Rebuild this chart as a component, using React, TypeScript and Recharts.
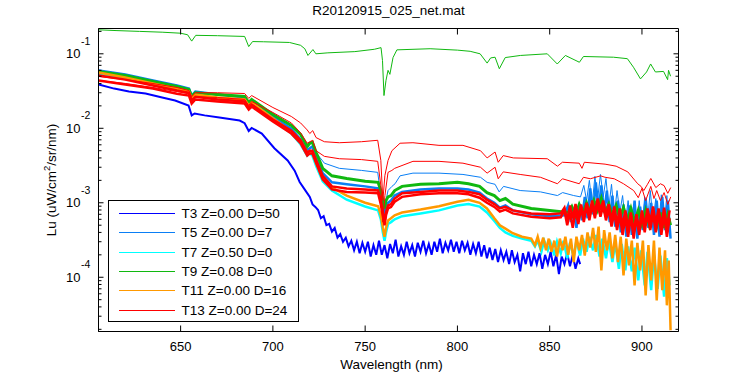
import React from 'react';
import { LineChart, Line, XAxis, YAxis, ReferenceArea } from 'recharts';

type Pt = [number, number];

// ---------- axis / text constants ----------
const WL_DOMAIN: [number, number] = [605.5, 919.8];
const LU_DOMAIN: [number, number] = [1.87e-5, 0.2186];
const X_TICKS = [650, 700, 750, 800, 850, 900];
const Y_MAJOR = [1e-4, 1e-3, 1e-2, 1e-1];
const Y_MAJOR_EXP = ['-4', '-3', '-2', '-1'];
const Y_MINOR = [
  2e-5, 3e-5, 4e-5, 5e-5, 6e-5, 7e-5, 8e-5, 9e-5,
  2e-4, 3e-4, 4e-4, 5e-4, 6e-4, 7e-4, 8e-4, 9e-4,
  2e-3, 3e-3, 4e-3, 5e-3, 6e-3, 7e-3, 8e-3, 9e-3,
  2e-2, 3e-2, 4e-2, 5e-2, 6e-2, 7e-2, 8e-2, 9e-2,
  2e-1,
];
const TITLE = 'R20120915_025_net.mat';
const X_LABEL = 'Wavelength (nm)';
const LEGEND_NAMES = [
  'T3 Z=0.00 D=50',
  'T5 Z=0.00 D=7',
  'T7 Z=0.50 D=0',
  'T9 Z=0.08 D=0',
  'T11 Z=0.00 D=16',
  'T13 Z=0.00 D=24',
];

// ---------- data: [wavelength nm, Lu] ----------
const T3_LU: Pt[] = [
  [605.6,3.87e-2],[614,3.41e-2],[622,3.11e-2],[631,2.93e-2],[640,2.59e-2],[647,2.36e-2],[654.3,2.02e-2],[656,1.49e-2],[657.6,1.58e-2],[663,1.49e-2],[671,1.4e-2],[682,1.27e-2],[684.7,1.17e-2],[686.9,9.2e-3],[688.5,1.01e-2],[694,8.5e-3],[700.8,5.4e-3],[708,3.7e-3],[711.8,2.7e-3],[714.5,1.9e-3],[717.3,1.5e-3],
  [720,1.2e-3],[721.5,9.5e-4],[723,8.8e-4],[724.5,8e-4],[726,6.2e-4],[727.5,6.6e-4],[729,5e-4],[730.5,5.2e-4],[732,4.1e-4],[733.5,4.6e-4],[735,3.4e-4],[736.5,3.8e-4],[738,3e-4],[739.5,3.4e-4],[741,2.6e-4],[742.5,3.1e-4],[744,2.3e-4],[745.5,3e-4],[747,2.1e-4],[748.5,2.9e-4],[750,2.2e-4],[751.5,3e-4],[753,1.9e-4],[754.5,2.7e-4],[756,2e-4],[757.5,3.1e-4],[759,2e-4],[760.5,2.7e-4],[762,1.8e-4],[763.5,2.8e-4],[765,2.1e-4],[766.5,3.2e-4],[768,1.9e-4],[769.5,2.6e-4],[771,2e-4],[772.5,3e-4],[774,2.1e-4],[775.5,2.7e-4],[777,1.9e-4],[778.5,2.9e-4],[780,2.2e-4],[781.5,3.1e-4],[783,2.1e-4],[784.5,2.8e-4],[786,2e-4],[787.5,3e-4],[789,2.2e-4],[790.5,3.3e-4],[792,2.1e-4],[793.5,2.9e-4],[795,2.3e-4],[796.5,3.2e-4],[798,2.2e-4],[799.5,3e-4],[801,2.1e-4],[802.5,3.1e-4],[804,2.3e-4],[805.5,2.9e-4],[807,2e-4],[808.5,2.8e-4],[810,2.1e-4],[811.5,3e-4],[813,1.9e-4],[814.5,2.7e-4],[816,1.8e-4],[817.5,2.5e-4],[819,1.7e-4],[820.5,2.4e-4],[822,1.6e-4],[823.5,2.3e-4],[825,1.7e-4],[826.5,2.2e-4],[828,1.5e-4],[829.5,2.3e-4],[831,1.6e-4],[832.5,2e-4],[834,1.2e-4],[835.5,2.1e-4],[837,1.5e-4],[838.5,2.2e-4],[840,1.4e-4],[841.5,2e-4],[843,1.5e-4],[844.5,2.1e-4],[846,1.3e-4],[847.5,2e-4],[849,1.5e-4],[850.5,2.2e-4],[852,1.4e-4],[853.5,2e-4],[855,1.1e-4],[856.5,1.9e-4],[858,1.5e-4],[859.5,2.1e-4],[861,1.4e-4],[862.5,2e-4],[864,1.3e-4],[865.5,1.8e-4],[866.5,1.5e-4],
];

const T5A_LU: Pt[] = [
  [605.6,5.97e-2],[620,5.27e-2],[635,4.38e-2],[648,3.64e-2],[654.5,3.41e-2],[656,2.75e-2],[658,3.11e-2],[670,2.84e-2],[684.7,2.67e-2],[686.9,2.15e-2],[688.5,2.44e-2],[700,1.58e-2],[710,1.09e-2],[715,8e-3],[718.6,5.7e-3],[720,6.3e-3],[721.6,6.3e-3],[723.4,4.7e-3],[727.9,3.4e-3],[736,2.9e-3],[748,2.72e-3],[756.8,2.56e-3],[758.5,1.25e-3],[759.6,4.6e-4],[760.7,9.2e-4],[762.4,1.46e-3],[764.5,1.66e-3],[766.2,1.8e-3],[768.9,2.3e-3],[775.9,2.5e-3],[790,2.5e-3],[803,2.4e-3],[812.5,2.2e-3],[816.1,1.88e-3],[820.4,1.77e-3],[822.6,1.4e-3],[825,1.66e-3],[834,1.46e-3],[845,1.4e-3],[854.2,1.25e-3],[857,1.37e-3],[863,1.25e-3],[866.7,1.2e-3],
  [868.5,1.71e-3],[870,1.07e-3],[871.5,2e-3],[873,9.2e-4],[874.5,2.26e-3],[876,1.14e-3],[877.5,2.4e-3],[879,1.2e-3],[880.5,2.12e-3],[882,8.4e-4],[883.5,1.77e-3],[885,6.8e-4],[886.5,1.46e-3],[888,7.4e-4],[889.5,1.25e-3],[891,5.5e-4],[892.5,1.07e-3],[894,5e-4],[895.5,9.2e-4],[897,4e-4],[898.5,1.07e-3],[900,4.6e-4],[901.5,1.2e-3],[903,5.5e-4],[904.5,1.46e-3],[906,5.8e-4],[907.5,1.14e-3],[909,4.8e-4],[910.5,1.28e-3],[912,5e-4],[913.5,1.25e-3],[915,3.6e-4],
];

const T5B_LU: Pt[] = [
  [605.6,5.97e-2],[620,5.27e-2],[635,4.38e-2],[648,3.75e-2],[654.5,3.41e-2],[656,2.75e-2],[658,3.11e-2],[670,2.84e-2],[684.7,2.59e-2],[686.9,2.15e-2],[688.5,2.36e-2],[700,1.44e-2],[710,9.9e-3],[715,7.1e-3],[718.6,5e-3],[720,5.4e-3],[721.4,5.7e-3],[723.5,3.9e-3],[727,2.5e-3],[732,1.88e-3],[740,1.77e-3],[750,1.66e-3],[757,1.56e-3],[758.5,1.2e-3],[759.6,9.2e-4],[760.5,7e-4],[761.3,8.9e-4],[762.4,1e-3],[764,1.07e-3],[766,1.25e-3],[770,1.4e-3],[780,1.51e-3],[790,1.56e-3],[800,1.56e-3],[806,1.51e-3],[812,1.37e-3],[816,1.14e-3],[820,1e-3],[823,8.6e-4],[826,9.2e-4],[830,7.9e-4],[840,7e-4],[850,6.6e-4],[858,6.8e-4],
  [860,9.2e-4],[861.5,5.5e-4],[863,8.4e-4],[864.5,4.6e-4],[866,9.5e-4],[867.5,5.8e-4],[869,1.2e-3],[870.5,6.2e-4],[872,1.56e-3],[873.5,7e-4],[875,1.88e-3],[876.5,7.9e-4],[878,1.71e-3],[879.5,7.4e-4],[881,1.46e-3],[882.5,5.5e-4],[884,1.25e-3],[885.5,4.8e-4],[887,1.07e-3],[888.5,4e-4],[890,9.5e-4],[891.5,3.5e-4],[893,9.2e-4],[894.5,3.7e-4],[896,1.07e-3],[897.5,3.3e-4],[899,8.9e-4],[900.5,4.3e-4],[902,1.14e-3],[903.5,4.6e-4],[905,1e-3],[906.5,3.7e-4],[908,1.07e-3],[909.5,3.5e-4],[911,1.2e-3],[912.5,4.3e-4],[914,1.07e-3],[915.5,3.3e-4],
];

const T7_LU: Pt[] = [
  [605.6,5.4e-2],[620,4.66e-2],[635,3.87e-2],[648,3.31e-2],[654.5,3e-2],[656,2.44e-2],[658,2.75e-2],[670,2.52e-2],[684.7,2.36e-2],[686.9,1.96e-2],[688.5,2.15e-2],[700,1.31e-2],[710,8.5e-3],[715,6.1e-3],[718.6,4.3e-3],[720,4.6e-3],[721.4,4.3e-3],[723.5,3.1e-3],[727,1.94e-3],[732,1.46e-3],[740,1.1e-3],[750,8.9e-4],[757,7.9e-4],[758.5,6e-4],[759.6,4e-4],[760.5,3.1e-4],[761.3,4e-4],[762.4,5.2e-4],[764,5.5e-4],[766,6e-4],[770,6.6e-4],[780,7.2e-4],[790,7.9e-4],[800,9.2e-4],[806,9.6e-4],[812,8.9e-4],[816,7.4e-4],[820,5.7e-4],[823,4.6e-4],[826,4e-4],[830,3.6e-4],[835,3.3e-4],[840,3.1e-4],
  [842,2.6e-4],[843.5,3.1e-4],[845.5,2.2e-4],[847,3.1e-4],[849,2.3e-4],[850.5,2.9e-4],[852.5,1.96e-4],[854,3e-4],[856,2.1e-4],[857.5,3.1e-4],[859.5,1.8e-4],[861,2.9e-4],[863,1.9e-4],[864.5,3.1e-4],[866.5,1.96e-4],[868,3.3e-4],[870,2.2e-4],[871.5,3.5e-4],[873.5,2.3e-4],[875,3.7e-4],[877,1.9e-4],[878.5,3.3e-4],[880.5,1.8e-4],[882,3.1e-4],[884,1.6e-4],[885.5,2.9e-4],[887.5,1.3e-4],[889,2.8e-4],[891,1.24e-4],[892.5,2.6e-4],[894.5,1.2e-4],[896,2.5e-4],[898,9.1e-5],[899.5,2.3e-4],[901.5,7.8e-5],[903,2.2e-4],[905,6.7e-5],[906.5,2e-4],[908.5,7e-5],[910,1.96e-4],[912,5.5e-5],[913.5,1.8e-4],[915,7.8e-5],
];

const T9A_LU: Pt[] = [
  [605.6,0.21],[615,0.205],[627.7,0.2],[640,0.195],[650,0.189],[653.8,0.18],[656,0.148],[658.2,0.177],[670,0.175],[684.7,0.171],[686.9,0.125],[689,0.146],[695,0.145],[709,0.142],[715,0.13],[717.3,0.117],[719,0.095],[721.7,0.114],[723.3,0.1],[729.8,0.103],[744.4,0.107],[755,0.115],[758.6,0.121],[759.4,0.081],[760.2,0.0275],[761.3,0.044],[762.4,0.06],[763.4,0.053],[765.1,0.089],[767.2,0.113],[785.2,0.117],[800,0.112],[806.9,0.108],[812.3,0.1],[816.1,0.075],[818,0.088],[820.4,0.09],[822.7,0.063],[825.9,0.089],[834.1,0.095],[848.7,0.1],[854.1,0.073],[858.5,0.095],[866.1,0.077],[868.3,0.092],[884.6,0.09],[892.1,0.086],[895.4,0.066],[899.2,0.046],[902.5,0.057],[904.7,0.073],[907.3,0.057],[911.7,0.058],[913.9,0.045],[914.4,0.06],[915.5,0.05],
];

const T9B_LU: Pt[] = [
  [605.6,5.8e-2],[620,5.11e-2],[635,4.25e-2],[648,3.64e-2],[654.5,3.31e-2],[656,2.67e-2],[658,3e-2],[670,2.84e-2],[684.7,2.67e-2],[686.9,2.22e-2],[688.5,2.44e-2],[700,1.53e-2],[710,1.09e-2],[715,8.3e-3],[718.6,5.7e-3],[720,6.3e-3],[721.4,6.5e-3],[723.5,4.7e-3],[727,2.9e-3],[732,2.3e-3],[740,2.12e-3],[750,1.94e-3],[757,1.88e-3],[758.5,1.46e-3],[759.6,1.07e-3],[760.5,8.4e-4],[761.3,1.07e-3],[762.4,1.2e-3],[764,1.25e-3],[766,1.46e-3],[770,1.66e-3],[780,1.77e-3],[790,1.8e-3],[800,1.88e-3],[806,1.8e-3],[812,1.66e-3],[816,1.37e-3],[820,1.25e-3],[823,1.07e-3],[826,1.14e-3],[830,9.6e-4],[840,8.4e-4],[850,7.9e-4],[860,7.4e-4],
  [862,8.9e-4],[864,6.8e-4],[866,9.5e-4],[868,7.2e-4],[870,1e-3],[872,7.4e-4],[874,1.07e-3],[876,7.9e-4],[878,1.14e-3],[880,7.4e-4],[882,9.6e-4],[884,6.8e-4],[886,9.2e-4],[888,6.2e-4],[890,8.6e-4],[892,5.8e-4],[894,8.4e-4],[896,5.5e-4],[898,7.9e-4],[900,5.2e-4],[902,7.9e-4],[904,5e-4],[906,7.4e-4],[908,4.8e-4],[910,7.4e-4],[912,4.6e-4],[914,7e-4],[915.5,5e-4],
];

const T11_LU: Pt[] = [
  [605.6,5.6e-2],[620,4.8e-2],[635,3.99e-2],[648,3.41e-2],[654.5,3.11e-2],[656,2.52e-2],[658,2.84e-2],[670,2.59e-2],[684.7,2.44e-2],[686.9,2.02e-2],[688.5,2.22e-2],[700,1.36e-2],[710,9e-3],[715,6.5e-3],[718.6,4.7e-3],[720,5e-3],[721.4,4.7e-3],[723.5,3.4e-3],[727,2.12e-3],[732,1.6e-3],[740,1.25e-3],[750,1e-3],[757,9e-4],[758.5,6.8e-4],[759.6,4.6e-4],[760.5,3.5e-4],[761.3,4.6e-4],[762.4,5.8e-4],[764,6.2e-4],[766,6.8e-4],[770,7.4e-4],[780,8.1e-4],[790,9e-4],[800,1.03e-3],[806,1.1e-3],[812,1e-3],[816,8.4e-4],[820,6.2e-4],[823,5e-4],[826,4.5e-4],[830,3.9e-4],[835,3.5e-4],[840,3.3e-4],
  [842,2.7e-4],[843.5,3.5e-4],[845,2.5e-4],[846.5,3.4e-4],[848,2.3e-4],[849.5,3.3e-4],[851,2.2e-4],[852.5,3.1e-4],[854,1.9e-4],[855.5,3.3e-4],[857,2.3e-4],[858.5,3.5e-4],[860,2e-4],[861.5,3.3e-4],[863,1.6e-4],[864.5,3.5e-4],[866,2.3e-4],[867.5,3.7e-4],[869,1.96e-4],[870.5,4e-4],[872,2.5e-4],[873.5,4.6e-4],[875,2.2e-4],[876.5,4.8e-4],[878,1.24e-4],[879.5,4.3e-4],[881,2.3e-4],[882.5,4e-4],[884,1.8e-4],[885.5,3.7e-4],[887,1.6e-4],[888.5,3.5e-4],[890,1.06e-4],[891.5,3.3e-4],[893,1.44e-4],[894.5,3.1e-4],[896,7.8e-5],[897.5,2.9e-4],[899,1.24e-4],[900.5,3.1e-4],[902,5.7e-5],[903.5,2.7e-4],[905,9.1e-5],[906.5,3.1e-4],[908,4.9e-5],[909.5,2.5e-4],[911,6.7e-5],[912.5,2.3e-4],[913.5,4.2e-5],[914.5,1.68e-4],[915.5,1.94e-5],
];

const T13A_LU: Pt[] = [
  [605.6,4.96e-2],[620,4.5e-2],[635,3.99e-2],[648,3.53e-2],[654.5,3.21e-2],[656,2.65e-2],[658,3e-2],[670,3e-2],[684.7,2.93e-2],[686.9,2.52e-2],[688.5,2.75e-2],[700,1.9e-2],[710,1.44e-2],[715,1.18e-2],[718.6,9.5e-3],[720,8.5e-3],[721.6,9.3e-3],[723.4,7.5e-3],[727.9,6.6e-3],[736,6.4e-3],[748,6.6e-3],[756.8,6.9e-3],[758.5,3.7e-3],[759.6,1.07e-3],[760.7,2.33e-3],[762.4,3.7e-3],[764.5,5e-3],[768.9,6.3e-3],[775.9,6.4e-3],[790,5.9e-3],[803,5.9e-3],[812.5,5e-3],[816.1,4e-3],[820.4,4.8e-3],[822.1,3.5e-3],[824.8,4.3e-3],[830.3,4e-3],[848.7,3.9e-3],[854.2,3.1e-3],[856.9,3.5e-3],[866,3.4e-3],[867.5,2.9e-3],[868.8,3.5e-3],[880,3.3e-3],[886,3.1e-3],[892.3,2.6e-3],[897.7,1.8e-3],[899.5,1.66e-3],[901,1.46e-3],[903,1.77e-3],[904.8,2.12e-3],[907.5,1.6e-3],[910,1.8e-3],[912,1.7e-3],[914,1.34e-3],[915.6,1.6e-3],
];

const T13B_LU: Pt[] = [
  [605.6,4.38e-2],[620,4e-2],[635,3.53e-2],[648,3.11e-2],[654.5,2.9e-2],[656,2.36e-2],[658,2.65e-2],[670,2.59e-2],[684.7,2.44e-2],[686.9,2.02e-2],[688.5,2.29e-2],[700,1.63e-2],[710,1.18e-2],[715,8.7e-3],[718.6,6.3e-3],[720,6.6e-3],[721.6,6.9e-3],[723.4,5e-3],[727.9,4.2e-3],[736,3.9e-3],[748,3.8e-3],[756.8,3.6e-3],[758.5,1.71e-3],[759.6,5.5e-4],[760.7,1.25e-3],[762.4,2.56e-3],[764.5,2.72e-3],[766,2.9e-3],[775.9,3.6e-3],[790,3.6e-3],[803,3.4e-3],[812.5,3e-3],[816.1,2.5e-3],[820.4,3e-3],[822.1,2.1e-3],[824.8,2.6e-3],[834,2.4e-3],[845,2.2e-3],[854.2,1.8e-3],[856.9,2.1e-3],[866,1.8e-3],[868.3,2.2e-3],[872,2.1e-3],[877.6,2.3e-3],[880,2.2e-3],[885,2.1e-3],[890,1.8e-3],[895.5,1.46e-3],[898,1.17e-3],[900,1.56e-3],[902,1.07e-3],[904.8,1.66e-3],[906.5,1.14e-3],[908,1.46e-3],[910,1.07e-3],[912,1.37e-3],[914,9.5e-4],[915.6,1.2e-3],
];

const T13C_LU: Pt[] = [
  [605.6,5.11e-2],[620,4.5e-2],[635,3.75e-2],[648,3.21e-2],[654.5,3e-2],[656,2.36e-2],[658,2.65e-2],[670,2.44e-2],[684.7,2.29e-2],[686.9,1.9e-2],[688.5,2.08e-2],[700,1.31e-2],[710,9.3e-3],[715,6.9e-3],[718.6,4.7e-3],[720,5e-3],[721.4,5e-3],[723.5,3.7e-3],[727,2.3e-3],[732,1.66e-3],[740,1.56e-3],[750,1.51e-3],[757,1.46e-3],[758.5,1.07e-3],[759.6,7.4e-4],[760.5,5.5e-4],[761.3,7.4e-4],[762.4,9.2e-4],[764,9.6e-4],[766,1.14e-3],[770,1.34e-3],[780,1.4e-3],[790,1.46e-3],[800,1.46e-3],[806,1.4e-3],[812,1.3e-3],[816,1.1e-3],[820,9.6e-4],[823,8.4e-4],[826,8.8e-4],[830,7.9e-4],[840,7.2e-4],[850,7e-4],[856,7.2e-4],
  [858,8.6e-4],[859.5,5.8e-4],[861,9.2e-4],[862.5,6.2e-4],[864,9.6e-4],[865.5,6.5e-4],[867,9.5e-4],[868.5,6.2e-4],[870,1e-3],[871.5,7e-4],[873,1.07e-3],[874.5,7.4e-4],[876,1.14e-3],[877.5,7.9e-4],[879,1.07e-3],[880.5,7e-4],[882,9.6e-4],[883.5,5.8e-4],[885,8.9e-4],[886.5,5.2e-4],[888,8.4e-4],[889.5,4.8e-4],[891,7.9e-4],[892.5,4.6e-4],[894,7.4e-4],[895.5,4e-4],[897,7e-4],[898.5,4.3e-4],[900,7.9e-4],[901.5,4.8e-4],[903,8.4e-4],[904.5,5.5e-4],[906,8.9e-4],[907.5,5.2e-4],[909,8.4e-4],[910.5,4.8e-4],[912,8.6e-4],[913.5,4.6e-4],[915,7.9e-4],
];

const T13D_LU: Pt[] = [
  [605.6,4.38e-2],[620,3.87e-2],[635,3.41e-2],[648,2.9e-2],[654.5,2.75e-2],[656,2.15e-2],[658,2.44e-2],[670,2.29e-2],[684.7,2.15e-2],[686.9,1.79e-2],[688.5,1.96e-2],[700,1.23e-2],[710,8.5e-3],[715,6.3e-3],[718.6,4.3e-3],[720,4.6e-3],[721.4,4.6e-3],[723.5,3.4e-3],[727,2.06e-3],[732,1.51e-3],[740,1.4e-3],[750,1.37e-3],[757,1.34e-3],[758.5,9.5e-4],[759.6,6.6e-4],[760.5,5e-4],[761.3,6.8e-4],[762.4,8.4e-4],[764,8.8e-4],[766,1.03e-3],[770,1.2e-3],[780,1.3e-3],[790,1.34e-3],[800,1.34e-3],[806,1.3e-3],[812,1.17e-3],[816,1e-3],[820,8.8e-4],[823,7.6e-4],[826,8.1e-4],[830,7.2e-4],[840,6.5e-4],[850,6.2e-4],[856,6.4e-4],
  [858,7.9e-4],[859.5,5e-4],[861,7.4e-4],[862.5,4.6e-4],[864,7.9e-4],[865.5,5.2e-4],[867,8.6e-4],[868.5,5.5e-4],[870,9.2e-4],[871.5,5.8e-4],[873,9.5e-4],[874.5,6.2e-4],[876,1e-3],[877.5,6.5e-4],[879,9.2e-4],[880.5,5.8e-4],[882,8.4e-4],[883.5,4.8e-4],[885,7.4e-4],[886.5,4.3e-4],[888,7e-4],[889.5,3.7e-4],[891,6.5e-4],[892.5,3.5e-4],[894,6.8e-4],[895.5,3.3e-4],[897,6.5e-4],[898.5,3.7e-4],[900,7e-4],[901.5,4e-4],[903,7.4e-4],[904.5,4.3e-4],[906,7.2e-4],[907.5,4e-4],[909,7.4e-4],[910.5,3.7e-4],[912,7e-4],[913.5,3.5e-4],[915,6.2e-4],
];

// ---------- styling ----------
const C_T3 = '#0000ff';
const C_T5 = '#0a7ff5';
const C_T7 = '#00ffff';
const C_T9 = '#10b810';
const C_T11 = '#ff9900';
const C_T13 = '#ff0000';
const LEGEND_COLORS = [C_T3, C_T5, C_T7, C_T9, C_T11, C_T13];

const SERIES: { id: string; pts: Pt[]; color: string; w: number }[] = [
  { id: 't3', pts: T3_LU, color: C_T3, w: 2 },
  { id: 't5a', pts: T5A_LU, color: C_T5, w: 1 },
  { id: 't5b', pts: T5B_LU, color: C_T5, w: 2.5 },
  { id: 't7', pts: T7_LU, color: C_T7, w: 2.5 },
  { id: 't9a', pts: T9A_LU, color: C_T9, w: 1 },
  { id: 't9b', pts: T9B_LU, color: C_T9, w: 3 },
  { id: 't11', pts: T11_LU, color: C_T11, w: 2.5 },
  { id: 't13a', pts: T13A_LU, color: C_T13, w: 1 },
  { id: 't13b', pts: T13B_LU, color: C_T13, w: 1 },
  { id: 't13c', pts: T13C_LU, color: C_T13, w: 2.5 },
  { id: 't13d', pts: T13D_LU, color: C_T13, w: 2.5 },
];

const rows = (pts: Pt[]) => pts.map(([wl, lu]) => ({ wl, lu }));

const W = 750;
const H = 375;
const PLOT = { left: 98.5, top: 28.5, width: 580, height: 303 };
const FONT = '"Liberation Sans", Arial, Helvetica, sans-serif';

function YTick(props: any) {
  const { y, payload } = props;
  const v = Number(payload && payload.value);
  const mi = Y_MAJOR.findIndex((m) => Math.abs(v / m - 1) < 1e-6);
  const len = mi >= 0 ? 5 : 3;
  const xl = PLOT.left;
  const xr = PLOT.left + PLOT.width;
  return (
    <g>
      <line x1={xl} x2={xl + len} y1={y} y2={y} stroke="#000" strokeWidth={1} />
      <line x1={xr} x2={xr - len} y1={y} y2={y} stroke="#000" strokeWidth={1} />
      {mi >= 0 && (
        <text x={xl - 18} y={y + 4.6} textAnchor="end" fontSize={13} fill="#000" fontFamily={FONT}>
          10
        </text>
      )}
      {mi >= 0 && (
        <text x={xl - 17.5} y={y - 9} textAnchor="start" fontSize={10.5} fill="#000" fontFamily={FONT}>
          {Y_MAJOR_EXP[mi]}
        </text>
      )}
    </g>
  );
}

function XTick(props: any) {
  const { x, payload } = props;
  const yb = PLOT.top + PLOT.height;
  return (
    <g>
      <line x1={x} x2={x} y1={yb} y2={yb - 6} stroke="#000" strokeWidth={1} />
      <line x1={x} x2={x} y1={PLOT.top} y2={PLOT.top + 6} stroke="#000" strokeWidth={1} />
      <text x={x} y={yb + 19.5} textAnchor="middle" fontSize={13} fill="#000" fontFamily={FONT}>
        {payload && payload.value}
      </text>
    </g>
  );
}

function Overlay() {
  const lx = 108.5;
  const ly = 200.5;
  const rowH = 19.35;
  return (
    <svg
      width={W}
      height={H}
      style={{ position: 'absolute', left: 0, top: 0, pointerEvents: 'none' }}
      fontFamily={FONT}
    >
      <text x={PLOT.left + PLOT.width / 2} y={15} textAnchor="middle" fontSize={13.5} fill="#000">
        {TITLE}
      </text>
      <text x={PLOT.left + PLOT.width / 2 + 3} y={369} textAnchor="middle" fontSize={13.5} fill="#000">
        {X_LABEL}
      </text>
      <text
        transform={`translate(56, ${PLOT.top + PLOT.height / 2}) rotate(-90)`}
        textAnchor="middle"
        fontSize={13.5}
        fill="#000"
      >
        Lu (uW/cm<tspan fontSize={9.5} dy={-6}>2</tspan>
        <tspan dy={6}>/sr/nm)</tspan>
      </text>
      <rect x={lx} y={ly} width={190} height={121} fill="#fff" stroke="#000" strokeWidth={1} />
      {LEGEND_NAMES.map((name, i) => {
        const cy = 213 + i * rowH;
        return (
          <g key={name}>
            <line x1={119} x2={175} y1={Math.round(cy) + 0.5} y2={Math.round(cy) + 0.5} stroke={LEGEND_COLORS[i]} strokeWidth={1} />
            <text x={181.5} y={cy + 5} fontSize={13.5} fill="#000">
              {name}
            </text>
          </g>
        );
      })}
    </svg>
  );
}

export default function App() {
  return (
    <div style={{ position: 'absolute', left: 0, top: 0, width: W, height: H, background: '#fff', fontFamily: FONT }}>
      <LineChart
        width={W}
        height={H}
        margin={{ top: PLOT.top, right: W - PLOT.left - PLOT.width, bottom: 0, left: 0 }}
      >
        <XAxis
          type="number"
          dataKey="wl"
          domain={WL_DOMAIN}
          allowDataOverflow
          ticks={X_TICKS}
          interval={0}
          height={H - PLOT.top - PLOT.height}
          tickSize={0}
          tickMargin={0}
          tickLine={false}
          axisLine={{ stroke: '#000' }}
          tick={<XTick />}
        />
        <YAxis
          type="number"
          scale="log"
          domain={LU_DOMAIN}
          allowDataOverflow
          ticks={[...Y_MINOR, ...Y_MAJOR]}
          interval={0}
          width={PLOT.left}
          tickSize={0}
          tickMargin={0}
          tickLine={false}
          axisLine={{ stroke: '#000' }}
          tick={<YTick />}
        />
        {SERIES.map((s) => (
          <Line
            key={s.id}
            data={rows(s.pts)}
            dataKey="lu"
            type="linear"
            stroke={s.color}
            strokeWidth={s.w}
            dot={false}
            activeDot={false}
            isAnimationActive={false}
          />
        ))}
        <ReferenceArea
          x1={WL_DOMAIN[0]}
          x2={WL_DOMAIN[1]}
          y1={LU_DOMAIN[0]}
          y2={LU_DOMAIN[1]}
          fill="none"
          fillOpacity={0}
          stroke="#000"
          strokeWidth={1}
          ifOverflow="visible"
        />
      </LineChart>
      <Overlay />
    </div>
  );
}
